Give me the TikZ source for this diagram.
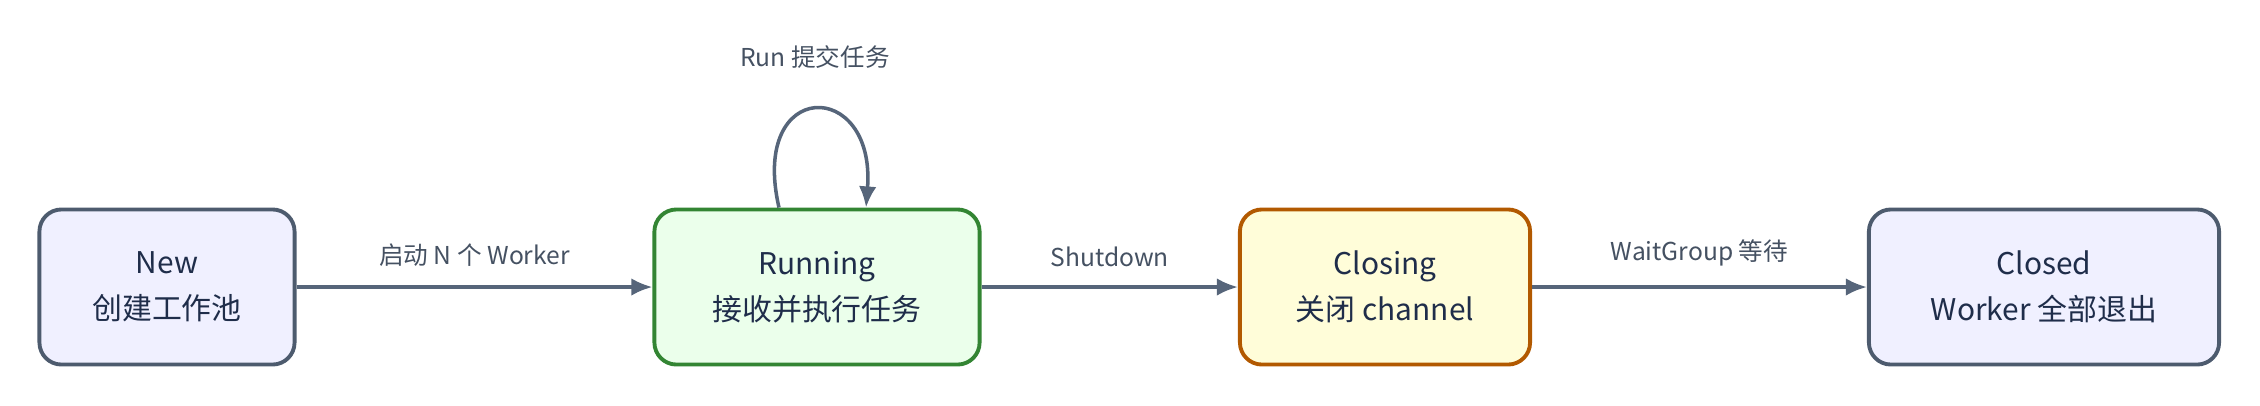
\documentclass[tikz,border=0pt]{standalone}
\usepackage{fontspec}
\setmainfont{Noto Sans CJK SC}
\usetikzlibrary{arrows.meta,positioning}
\definecolor{edgec}{HTML}{56657A}
\definecolor{txtc}{HTML}{1F2D4A}
\tikzset{
  state/.style={draw,rounded corners=0.22cm,line width=1.1pt,minimum height=1.55cm,
    align=center,text=txtc,font=\fontsize{8.5}{13}\selectfont},
  blue state/.style={state,draw=edgec!90!black,fill=blue!6!white},
  arr/.style={-{Latex[length=6pt,width=5pt]},draw=edgec,line width=1pt},
  lbl/.style={text=edgec!80!black,font=\fontsize{7}{9}\selectfont}
}
\begin{document}
\begin{tikzpicture}[x=0.01cm,y=-0.01cm]
\useasboundingbox (0,0) rectangle (2260,405);

\node[blue state,minimum width=2.55cm] (new) at (167,287) {New\\创建工作池};
\node[state,draw=green!40!black!80,fill=green!8!white,minimum width=3.25cm] (run) at (817,287) {Running\\接收并执行任务};
\node[state,draw=orange!70!black,fill=yellow!15!white,minimum width=2.9cm] (closing) at (1385,287) {Closing\\关闭 channel};
\node[blue state,minimum width=3.5cm] (closed) at (2044,287) {Closed\\Worker 全部退出};

\draw[arr] (new) -- node[lbl,above=2pt] {启动 N 个 Worker} (run);
\draw[arr] (run) -- node[lbl,above=2pt] {Shutdown} (closing);
\draw[arr] (closing) -- node[lbl,above=2pt] {WaitGroup 等待} (closed);

% self loop
\draw[arr] ([xshift=-0.38cm]run.north) .. controls +(-30,-130) and +(10,-130) .. ([xshift=0.49cm]run.north)
  node[lbl,pos=0.5,above=8pt] {Run 提交任务};
\end{tikzpicture}
\end{document}
